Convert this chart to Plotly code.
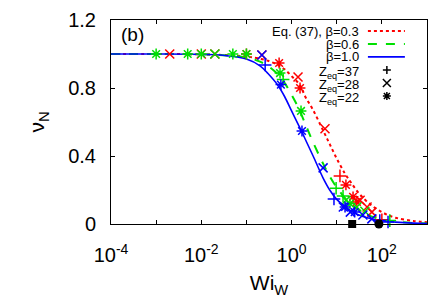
import plotly.graph_objects as go

# ---- Eq. (37) curves ----
wi_curve = [1e-4, 1e-3, 1e-2, 0.03, 0.1, 0.2, 0.3, 0.5, 0.7, 1, 1.5, 2, 3, 5, 7, 10,
            15, 20, 30, 50, 100, 200, 500, 1000]
nu_b03 = [1.0, 1.0, 0.998, 0.994, 0.985, 0.972, 0.96, 0.935, 0.91, 0.87, 0.82, 0.75,
          0.67, 0.55, 0.47, 0.385, 0.30, 0.25, 0.185, 0.125, 0.07, 0.037, 0.018, 0.010]
nu_b06 = [1.0, 1.0, 0.998, 0.993, 0.98, 0.955, 0.93, 0.88, 0.83, 0.76, 0.67, 0.59,
          0.48, 0.355, 0.28, 0.215, 0.155, 0.12, 0.085, 0.052, 0.027, 0.014, 0.006, 0.003]
nu_b10 = [1.0, 1.0, 0.998, 0.993, 0.97, 0.93, 0.885, 0.815, 0.75, 0.665, 0.57, 0.50,
          0.40, 0.27, 0.20, 0.145, 0.105, 0.08, 0.055, 0.035, 0.019, 0.011, 0.005, 0.003]

# ---- simulation data (Wi_W, nu_N) ----
# beta = 0.3 (red)
r37_wi = [11.8, 100]
r37_nu = [0.283, 0.025]
r28_wi = [0.002, 0.01, 0.02, 0.22, 1.39, 5.5, 33, 47, 60]
r28_nu = [1.0, 1.0, 1.0, 0.994, 0.865, 0.56, 0.14, 0.10, 0.07]
r22_wi = [0.1, 0.53, 1.54, 16, 23, 28]
r22_nu = [1.0, 0.947, 0.80, 0.23, 0.16, 0.13]
# beta = 0.6 (green)
g37_wi = [0.65, 9.7, 13.8, 150]
g37_nu = [0.85, 0.21, 0.165, 0.02]
g28_wi = [0.02, 16, 28, 42]
g28_nu = [1.0, 0.14, 0.10, 0.075]
g22_wi = [0.001, 0.005, 0.01, 0.05, 0.1, 0.555, 1.62, 19.7]
g22_nu = [1.0, 1.0, 1.0, 1.0, 1.0, 0.888, 0.665, 0.12]
# beta = 1.0 (blue)
b37_wi = [0.26, 8.7, 90, 137]
b37_nu = [0.935, 0.147, 0.02, 0.012]
b28_wi = [0.22, 5.0, 14, 20, 38, 60]
b28_nu = [0.994, 0.33, 0.10, 0.07, 0.053, 0.03]
b22_wi = [0.58, 1.7, 15.3, 25]
b22_nu = [0.82, 0.547, 0.10, 0.07]
# black reference marks on the axis
sq_wi, sq_nu = [22], [0]
ci_wi, ci_nu = [86], [0]

RED, GREEN, BLUE = "#ff0000", "#00e000", "#0000ff"
FONT = "Liberation Sans, Arial, sans-serif"

fig = go.Figure()
fig.add_trace(go.Scatter(x=wi_curve, y=nu_b03, mode="lines", line=dict(color=RED, width=2, dash="dot", shape="spline")))
fig.add_trace(go.Scatter(x=wi_curve, y=nu_b06, mode="lines", line=dict(color=GREEN, width=2, dash="dash", shape="spline")))
fig.add_trace(go.Scatter(x=wi_curve, y=nu_b10, mode="lines", line=dict(color=BLUE, width=1.6, shape="spline")))

def pts(x, y, color, sym, size=9):
    fig.add_trace(go.Scatter(x=x, y=y, mode="markers", cliponaxis=False,
                             marker=dict(symbol=sym, size=size, color=color,
                                         line=dict(color=color, width=1.5))))

for (x, y, c, s) in [
    (r37_wi, r37_nu, RED, "cross-thin"), (r28_wi, r28_nu, RED, "x-thin"), (r22_wi, r22_nu, RED, "asterisk"),
    (g37_wi, g37_nu, GREEN, "cross-thin"), (g28_wi, g28_nu, GREEN, "x-thin"), (g22_wi, g22_nu, GREEN, "asterisk"),
    (b37_wi, b37_nu, BLUE, "cross-thin"), (b28_wi, b28_nu, BLUE, "x-thin"), (b22_wi, b22_nu, BLUE, "asterisk"),
]:
    pts(x, y, c, s)

fig.add_trace(go.Scatter(x=sq_wi, y=sq_nu, mode="markers", cliponaxis=False,
                         marker=dict(symbol="square", size=8, color="black")))
fig.add_trace(go.Scatter(x=ci_wi, y=ci_nu, mode="markers", cliponaxis=False,
                         marker=dict(symbol="circle", size=9, color="black")))

x_ticks = [1e-4, 1e-2, 1, 100]
x_text = ["10<sup>-4</sup>", "10<sup>-2</sup>", "10<sup>0</sup>", "10<sup>2</sup>"]
x_minor = [1e-3, 1e-1, 10, 1000]
y_ticks = [0, 0.4, 0.8, 1.2]
y_text = ["0", "0.4", "0.8", "1.2"]

# ---- custom gnuplot-style key ----
key_text = ["Eq. (37), β=0.3", "β=0.6", "β=1.0",
            "Z<sub>eq</sub>=37", "Z<sub>eq</sub>=28", "Z<sub>eq</sub>=22"]
key_y = [0.946, 0.882, 0.819, 0.745, 0.681, 0.617]
annotations = []
for t, yy in zip(key_text, key_y):
    annotations.append(dict(text=t, x=0.788, y=yy, xref="paper", yref="paper",
                            xanchor="right", yanchor="middle", showarrow=False,
                            borderpad=0,
                            font=dict(size=13, color="black", family=FONT)))
annotations.append(dict(text="(b)", x=0.025, y=0.99, xref="paper", yref="paper",
                        xanchor="left", yanchor="top", showarrow=False,
                        font=dict(size=19, color="black", family=FONT)))
shapes = []
for yy, c, d, w in [(0.946, RED, "dot", 2), (0.882, GREEN, "dash", 2), (0.819, BLUE, "solid", 1.6)]:
    shapes.append(dict(type="line", xref="paper", yref="paper", x0=0.813, x1=0.930,
                       y0=yy, y1=yy, line=dict(color=c, width=w, dash=d)))
sym_paths = ["M-4,0L4,0M0,-4L0,4",
             "M-4,-4L4,4M-4,4L4,-4",
             "M-4,0L4,0M0,-4L0,4M-3,-3L3,3M-3,3L3,-3"]
for yy, p in zip([0.755, 0.691, 0.627], sym_paths):
    shapes.append(dict(type="path", xref="paper", yref="paper", xsizemode="pixel",
                       ysizemode="pixel", xanchor=0.873, yanchor=yy, path=p,
                       line=dict(color="black", width=1.5)))

fig.update_layout(
    width=436, height=306, showlegend=False,
    margin=dict(l=111, r=9, t=20, b=82, autoexpand=False),
    paper_bgcolor="white", plot_bgcolor="white",
    font=dict(family=FONT, size=20, color="black"),
    annotations=annotations, shapes=shapes,
    xaxis=dict(type="log", range=[-4, 3], tickmode="array", tickvals=x_ticks, ticktext=x_text,
               ticks="inside", ticklen=4, tickcolor="black", showline=True,
               linecolor="black", linewidth=1, mirror="ticks", showgrid=False,
               zeroline=False, ticklabelstandoff=13, automargin=False,
               minor=dict(tickmode="array", tickvals=x_minor, ticks="inside", ticklen=4,
                          tickcolor="black", showgrid=False),
               title=dict(text="Wi<sub>W</sub>", font=dict(size=21), standoff=10)),
    yaxis=dict(range=[0, 1.2], tickmode="array", tickvals=y_ticks, ticktext=y_text,
               ticks="inside", ticklen=4, tickcolor="black", showline=True,
               linecolor="black", linewidth=1, mirror="ticks", showgrid=False,
               zeroline=False, ticklabelstandoff=10, automargin=False,
               title=dict(text="ν<sub>N</sub>", font=dict(size=21), standoff=17)),
)

fig.write_html("out.html", config={"displayModeBar": False},
               post_script="document.body.style.margin='0';document.body.style.overflow='hidden';")
